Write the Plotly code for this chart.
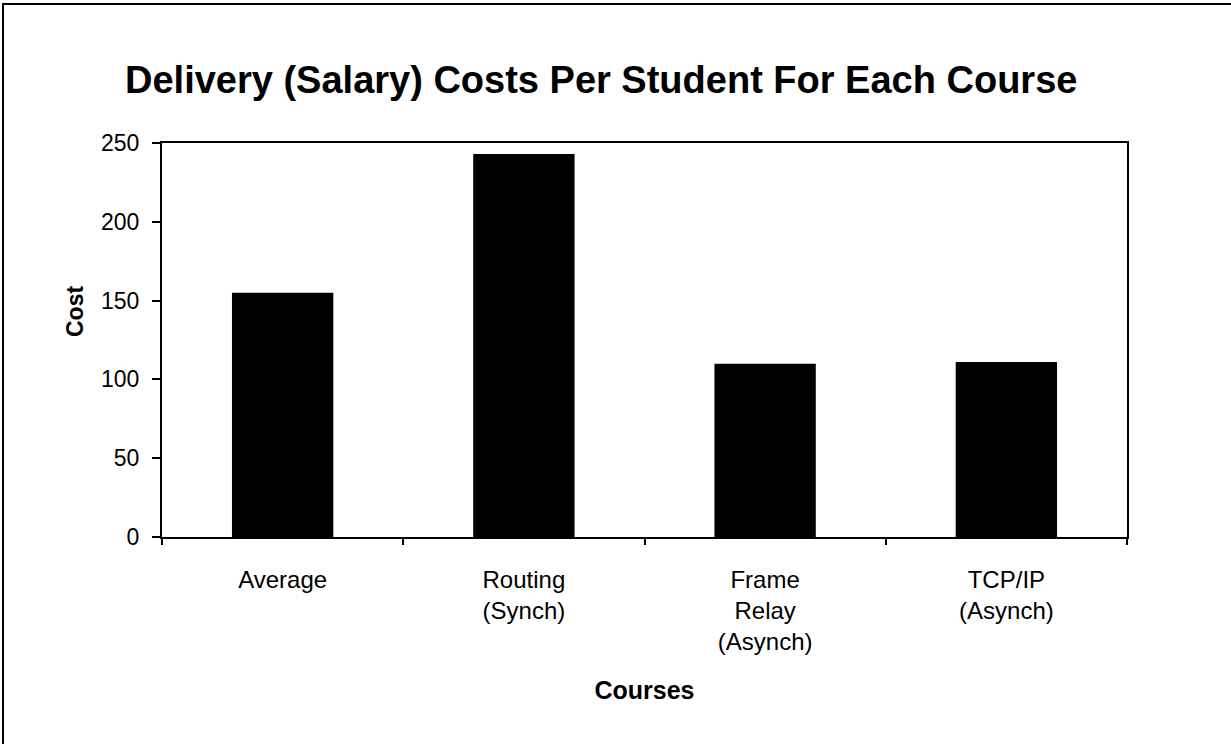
import plotly.graph_objects as go

categories = ["Average", "Routing<br>(Synch)", "Frame<br>Relay<br>(Asynch)", "TCP/IP<br>(Asynch)"]
costs = [155, 243, 110, 111]
y_ticks = [0, 50, 100, 150, 200, 250]

title_text = "Delivery (Salary) Costs Per Student For Each Course"
x_title = "Courses"
y_title = "Cost"

FONT = "Liberation Sans, Arial, sans-serif"

fig = go.Figure()
fig.add_trace(go.Bar(
    x=categories, y=costs,
    marker=dict(color="#000000", line=dict(width=0)),
    width=0.42,
))

W, H = 1231, 744
L, R, T, B = 162, 104, 143, 207
pw, ph = W - L - R, H - T - B

def px_x(p):
    return (p - L) / pw

def px_y(p):
    return (H - B - p) / ph

fig.update_layout(
    width=W, height=H,
    margin=dict(l=L, r=R, t=T, b=B),
    paper_bgcolor="white", plot_bgcolor="white",
    showlegend=False,
    bargap=0.58,
    font=dict(family=FONT, color="black", size=22),
    xaxis=dict(
        type="category",
        tickson="boundaries",
        ticks="outside", ticklen=6, tickwidth=1.5, tickcolor="black",
        showline=True, linecolor="black", linewidth=2, mirror=True,
        showgrid=False, zeroline=False,
        tickfont=dict(size=24, family=FONT),
        ticklabelstandoff=20,
        title=dict(text="<b>" + x_title + "</b>", font=dict(size=25, family=FONT), standoff=27),
        range=[-0.5, 3.5],
    ),
    yaxis=dict(
        range=[0, 250],
        tickvals=y_ticks,
        ticks="outside", ticklen=8, tickwidth=1.5, tickcolor="black",
        showline=True, linecolor="black", linewidth=2, mirror=True,
        showgrid=False, zeroline=False,
        tickfont=dict(size=23, family=FONT),
        ticklabelstandoff=8,
    ),
)

fig.add_annotation(
    text="<b>" + y_title + "</b>",
    xref="paper", yref="paper",
    x=px_x(75), y=px_y(312),
    xanchor="center", yanchor="middle",
    textangle=-90,
    showarrow=False,
    font=dict(size=23, family=FONT, color="black"),
)

fig.add_annotation(
    text="<b>" + title_text + "</b>",
    xref="paper", yref="paper",
    x=px_x(601), y=px_y(80),
    xanchor="center", yanchor="middle",
    showarrow=False,
    font=dict(size=38, family=FONT, color="black"),
)

# outer frame of the chart
fig.add_shape(
    type="rect", xref="paper", yref="paper",
    x0=px_x(3), x1=px_x(1260), y0=px_y(770), y1=px_y(4),
    line=dict(color="black", width=2),
    fillcolor="rgba(0,0,0,0)",
    layer="below",
)

fig.write_html("out.html", config={"displayModeBar": False},
               post_script="document.body.style.margin='0';")
